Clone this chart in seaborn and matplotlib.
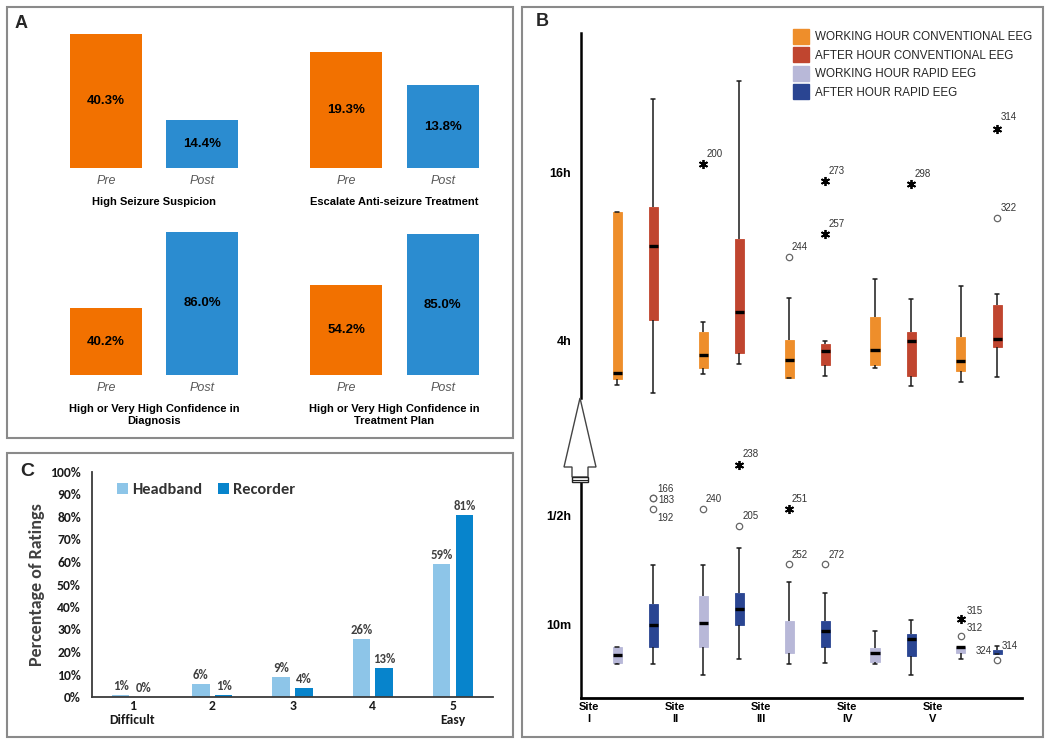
import numpy as np
import pandas as pd
import matplotlib
matplotlib.use("Agg")
import matplotlib.pyplot as plt
import seaborn as sns
from matplotlib.patches import Rectangle, Polygon, Patch
from matplotlib.ticker import NullLocator
from matplotlib import font_manager as fm

# ------------------------------------------------------------------ data
# Panel A
a_phases = ["Pre", "Post"]
a_titles = ["High Seizure Suspicion",
            "Escalate Anti-seizure Treatment",
            "High or Very High Confidence in\nDiagnosis",
            "High or Very High Confidence in\nTreatment Plan"]
a_pre = [40.3, 19.3, 40.2, 54.2]
a_post = [14.4, 13.8, 86.0, 85.0]

# Panel C
c_ratings = ["1\nDifficult", "2", "3", "4", "5\nEasy"]
c_devices = ["Headband", "Recorder"]
c_headband = [1, 6, 9, 26, 59]
c_recorder = [0, 1, 4, 13, 81]

# Panel B (five-number summaries: min, q1, median, q3, max)
b_sites = ["I", "II", "III", "IV", "V"]
b_site_labels = ["Site\nI", "Site\nII", "Site\nIII", "Site\nIV", "Site\nV"]
b_conv_groups = ["WORKING HOUR CONVENTIONAL EEG", "AFTER HOUR CONVENTIONAL EEG"]
b_rapid_groups = ["WORKING HOUR RAPID EEG", "AFTER HOUR RAPID EEG"]
# hours
b_conv_working = [[2.77, 2.89, 3.04, 11.5, 11.5],
                  [3.03, 3.19, 3.53, 4.29, 4.66],
                  [2.92, 2.93, 3.39, 3.99, 5.67],
                  [3.17, 3.25, 3.68, 4.85, 6.62],
                  [2.83, 3.09, 3.37, 4.10, 6.23]]
b_conv_after = [[2.59, 4.74, 8.69, 11.96, 29.3],
                [3.28, 3.60, 5.05, 9.18, 34.0],
                [2.97, 3.25, 3.66, 3.87, 3.98],
                [2.74, 2.97, 3.97, 4.26, 5.63],
                [2.95, 3.77, 4.02, 5.33, 5.83]]
# minutes
b_rapid_working = [[6.66, 6.72, 7.28, 7.90, 7.90],
                   [5.97, 7.95, 10.1, 13.32, 18.11],
                   [6.66, 7.46, 7.46, 10.34, 15.35],
                   [6.66, 6.83, 7.45, 7.87, 9.32],
                   [7.04, 7.48, 7.92, 7.95, 7.95]]
b_rapid_after = [[6.69, 7.95, 9.87, 12.21, 18.11],
                 [7.02, 9.87, 11.68, 13.68, 21.51],
                 [6.72, 7.95, 9.35, 10.34, 13.68],
                 [5.95, 7.26, 8.62, 9.04, 10.41],
                 [7.41, 7.41, 7.41, 7.69, 8.03]]

# outliers (upper = hours, lower = minutes)
b_up_out_site = ["II", "III", "III", "III", "IV", "V", "V"]
b_up_out_group = [0, 0, 1, 1, 1, 1, 1]
b_up_out_value = [17.05, 7.95, 14.86, 9.57, 14.5, 22.9, 10.92]
b_up_out_kind = ["*", "o", "*", "*", "*", "*", "o"]
b_up_out_label = ["200", "244", "273", "257", "298", "314", "322"]

b_lo_out_site = ["I", "I", "I", "II", "II", "II", "III", "III", "III", "V", "V", "V", "V"]
b_lo_out_group = [1, 1, 1, 0, 1, 1, 0, 0, 1, 0, 0, 0, 1]
b_lo_out_value = [35.9, 35.9, 32.0, 32.0, 26.96, 50.0, 32.0, 18.35, 18.35, 10.49, 8.86, 7.63, 6.95]
b_lo_out_kind = ["o", "o", "o", "o", "o", "*", "*", "o", "o", "*", "o", "", "o"]
b_lo_out_label = ["166", "183", "192", "240", "205", "238", "251", "252", "272", "315", "312", "324", "314"]

# ------------------------------------------------------------------ styles
A_ORANGE, A_BLUE = "#F27100", "#2B8CD0"
C_LIGHT, C_DARK = "#8DC5E8", "#0784CC"
B_COLORS = ["#EE8E2B", "#C0452F", "#B8B8D8", "#2A4592"]
BORDER = "#8a8a8a"

up_label_off = [(3, 10), (3, 10), (3, 10), (3, 10), (3, 10), (4, 12), (4, 10)]
lo_label_off = [(4, 9), (5, -2), (4, -9), (2, 10), (3, 10), (3, 11), (3, 10),
                (3, 9), (3, 9), (6, 8), (6, 8), (15, 0), (5, 14)]

sns.set_theme(style="white")
names = {f.name for f in fm.fontManager.ttflist}
plt.rcParams["font.family"] = ["Liberation Sans", "DejaVu Sans"]
CAL = ["Carlito", "Lato", "DejaVu Sans"]
if "Liberation Sans Narrow" in names:
    LEG_FAM, LEG_SIZE, LEG_HL, LEG_HH, LEG_LS = "Liberation Sans Narrow", 9.6, 1.2, 1.35, 0.3
else:
    LEG_FAM, LEG_SIZE, LEG_HL, LEG_HH, LEG_LS = "Liberation Sans", 8.4, 1.4, 1.55, 0.33

W, H = 1050, 743
fig = plt.figure(figsize=(W / 100, H / 100), dpi=100)
fig.patch.set_facecolor("white")


def fx(x):
    return x / W


def fy(y):
    return 1 - y / H


def add_ax(x0, y0, x1, y1):
    ax = fig.add_axes([fx(x0), fy(y1), (x1 - x0) / W, (y1 - y0) / H])
    ax.patch.set_alpha(0)
    return ax


# panel frames
for (x0, y0, x1, y1) in [(7, 7, 513, 438), (7, 453, 513, 737), (522, 7, 1043, 737)]:
    fig.add_artist(Rectangle((fx(x0), fy(y1)), (x1 - x0) / W, (y1 - y0) / H,
                             transform=fig.transFigure, fill=False,
                             edgecolor=BORDER, linewidth=1.5))

# ------------------------------------------------------------------ panel A
a_boxes = [(58, 18, 250, 168, 45.1), (298, 18, 491, 168, 24.95),
           (58, 225, 250, 375, 90.2), (298, 225, 491, 375, 90.6)]
for i, (x0, y0, x1, y1, ytop) in enumerate(a_boxes):
    ax = add_ax(x0, y0, x1, y1)
    vals = [a_pre[i], a_post[i]]
    sns.barplot(x=a_phases, y=vals, hue=a_phases, palette=[A_ORANGE, A_BLUE],
                width=0.75, saturation=1, legend=False, ax=ax, linewidth=0)
    ax.set_ylim(0, ytop)
    ax.set_xlim(-0.5, 1.5)
    for cont, v in zip(ax.containers, vals):
        ax.bar_label(cont, labels=[f"{v:.1f}%"], label_type="center",
                     fontsize=9.5, fontweight="bold", color="black")
    ax.set_yticks([])
    ax.set_ylabel("")
    ax.tick_params(axis="x", length=0, pad=5, labelsize=9, labelcolor="#5a5a5a")
    for t in ax.get_xticklabels():
        t.set_fontstyle("italic")
    ax.set_xlabel(a_titles[i], fontsize=8, fontweight="bold", color="black",
                  labelpad=7, linespacing=1.3)
    for s in ax.spines.values():
        s.set_visible(False)

fig.text(fx(15), fy(24), "A", fontsize=13, fontweight="bold", va="center", ha="left")

# ------------------------------------------------------------------ panel C
axC = add_ax(92, 472, 493, 697)
dfC = pd.DataFrame({"rating": c_ratings * 2,
                    "device": [d for d in c_devices for _ in c_ratings],
                    "pct": c_headband + c_recorder})
sns.barplot(data=dfC, x="rating", y="pct", hue="device", order=c_ratings,
            hue_order=c_devices, palette=[C_LIGHT, C_DARK], width=0.57, gap=0.24,
            saturation=1, ax=axC, linewidth=0)
axC.set_ylim(0, 100)
axC.set_xlim(-0.5, 4.5)
axC.set_yticks(range(0, 101, 10))
axC.set_yticklabels([f"{v}%" for v in range(0, 101, 10)])
axC.tick_params(axis="both", length=0, labelsize=9.8, labelcolor="#1a1a1a")
axC.tick_params(axis="y", pad=8)
axC.tick_params(axis="x", pad=2)
for t in axC.get_xticklabels() + axC.get_yticklabels():
    t.set_fontweight("bold")
    t.set_family(CAL)
for cont, vals in zip(axC.containers, [c_headband, c_recorder]):
    axC.bar_label(cont, labels=[f"{v}%" for v in vals], padding=2, fontsize=9.2,
                  fontweight="bold", color="#404040", family=CAL)
axC.set_xlabel("")
axC.set_ylabel("Percentage of Ratings", fontsize=13, fontweight="bold",
               color="#404040", family=CAL, labelpad=4)
for side in ["top", "right"]:
    axC.spines[side].set_visible(False)
for side in ["left", "bottom"]:
    axC.spines[side].set_color("#3a3a3a")
    axC.spines[side].set_linewidth(1.3)
h, l = axC.get_legend_handles_labels()
axC.legend(h, l, loc="upper left", bbox_to_anchor=((117 - 92) / 401, (697 - 483) / 225),
           ncol=2, frameon=False, handlelength=0.65, handleheight=0.65,
           columnspacing=1.0, handletextpad=0.25, borderpad=0, borderaxespad=0,
           prop=dict(family=CAL, weight="bold", size=11.8))
for t in axC.get_legend().get_texts():
    t.set_color("#333333")
fig.text(fx(20), fy(471), "C", fontsize=14, fontweight="bold", va="center", ha="left")

# ------------------------------------------------------------------ panel B


def five_num_frame(groups, per_group):
    rows = []
    for g, summaries in zip(groups, per_group):
        for s, vals in zip(b_sites, summaries):
            rows += [{"site": s, "group": g, "value": v} for v in vals]
    return pd.DataFrame(rows)


dfU = five_num_frame(b_conv_groups, [b_conv_working, b_conv_after])
dfL = five_num_frame(b_rapid_groups, [b_rapid_working, b_rapid_after])

X0, X1 = 581, 1022
axU = add_ax(X0, 33, X1, 400)
axL = add_ax(X0, 400, X1, 698)

MED_LW = 2.4
box_kw = dict(x="site", y="value", hue="group", order=b_sites, width=0.84, gap=0.75,
              whis=(0, 100), showfliers=False, saturation=1, linecolor="#1a1a1a",
              linewidth=1.1, medianprops=dict(color="black", linewidth=MED_LW),
              log_scale=True, legend=False)
sns.boxplot(data=dfU, hue_order=b_conv_groups, palette=B_COLORS[:2], ax=axU, **box_kw)
sns.boxplot(data=dfL, hue_order=b_rapid_groups, palette=B_COLORS[2:], ax=axL, **box_kw)

OFF = 0.21
for ax, per_group in [(axU, [b_conv_working, b_conv_after]),
                      (axL, [b_rapid_working, b_rapid_after])]:
    for p in ax.patches:
        p.set_edgecolor(p.get_facecolor())
        p.set_linewidth(0.6)
    # hide medians that coincide with the lower quartile
    hidden = []
    for gi, summaries in enumerate(per_group):
        for si, vals in enumerate(summaries):
            if vals[2] == vals[1]:
                hidden.append((si + (-OFF if gi == 0 else OFF), vals[2]))
    for ln in ax.lines:
        if abs(ln.get_linewidth() - MED_LW) < 1e-6:
            xd, yd = ln.get_xdata(), ln.get_ydata()
            xc = float(np.mean(xd))
            for hx, hv in hidden:
                if abs(xc - hx) < 0.05 and np.isclose(yd[0], hv):
                    ln.set_visible(False)

# axis scaling (log, separate scales for the two parts)
axU.set_ylim(2.44, 50.4)
axL.set_ylim(4.73, 96.5)
for ax in (axU, axL):
    ax.set_xlim(-0.63, 4.50)
    ax.yaxis.set_minor_locator(NullLocator())
    ax.set_xlabel("")
    ax.set_ylabel("")
    for side in ["top", "right"]:
        ax.spines[side].set_visible(False)
    ax.spines["left"].set_color("black")
    ax.spines["left"].set_linewidth(1.8)
    ax.tick_params(axis="y", length=0, pad=7, labelsize=9)

axU.spines["bottom"].set_visible(False)
axU.set_xticks([])
axU.spines["left"].set_bounds(2.48, 50.4)
axU.set_yticks([4, 16])
axU.set_yticklabels(["4h", "16h"])

axL.spines["left"].set_bounds(4.73, 42.1)
axL.spines["bottom"].set_color("black")
axL.spines["bottom"].set_linewidth(2)
axL.set_yticks([10, 30])
axL.set_yticklabels(["10m", "1/2h"])
axL.set_xticks([i - 0.535 for i in range(len(b_sites))])
axL.set_xticklabels(b_site_labels)
axL.tick_params(axis="x", length=0, pad=3, labelsize=8)
for ax in (axU, axL):
    for t in ax.get_xticklabels() + ax.get_yticklabels():
        t.set_fontweight("bold")
        t.set_color("black")


def draw_outliers(ax, sites, groups, values, kinds, labels, offs):
    for s, g, v, k, lab, (dx, dy) in zip(sites, groups, values, kinds, labels, offs):
        x = b_sites.index(s) + (-OFF if g == 0 else OFF)
        if k == "o":
            ax.plot([x], [v], marker="o", ms=4.6, mfc="white", mec="#666666",
                    mew=0.9, ls="none", zorder=5)
        elif k == "*":
            ax.plot([x], [v], marker=(6, 2, 0), ms=6.5, color="black",
                    mew=1.3, ls="none", zorder=5)
        ax.annotate(lab, (x, v), xytext=(dx, dy), textcoords="offset pixels",
                    fontsize=7, ha="left", va="center", color="#333333")


draw_outliers(axU, b_up_out_site, b_up_out_group, b_up_out_value, b_up_out_kind,
              b_up_out_label, up_label_off)
draw_outliers(axL, b_lo_out_site, b_lo_out_group, b_lo_out_value, b_lo_out_kind,
              b_lo_out_label, lo_label_off)

# axis-break arrow
arrow_px = [(580, 398), (596, 467), (588, 467), (588, 477), (572, 477), (572, 467), (564, 467)]
fig.add_artist(Polygon([(fx(x), fy(y)) for x, y in arrow_px], closed=True,
                       transform=fig.transFigure, facecolor="white",
                       edgecolor="#444444", linewidth=1))
fig.add_artist(Rectangle((fx(572), fy(482)), 16 / W, 5 / H, transform=fig.transFigure,
                         facecolor="white", edgecolor="#222222", linewidth=1))
fig.add_artist(plt.Line2D([fx(572), fx(588)], [fy(479.5), fy(479.5)],
                          transform=fig.transFigure, color="#222222", linewidth=0.8))

# legend
handles = [Patch(facecolor=c, edgecolor=c) for c in B_COLORS]
fig.legend(handles, b_conv_groups + b_rapid_groups, loc="upper left",
           bbox_to_anchor=(fx(793), fy(29)), frameon=False, handlelength=LEG_HL,
           handleheight=LEG_HH, labelspacing=LEG_LS, handletextpad=0.45,
           borderpad=0, borderaxespad=0,
           prop=dict(family=LEG_FAM, size=LEG_SIZE))
fig.text(fx(536), fy(22), "B", fontsize=13, fontweight="bold", va="center", ha="left")

fig.savefig("out.png", dpi=100)
